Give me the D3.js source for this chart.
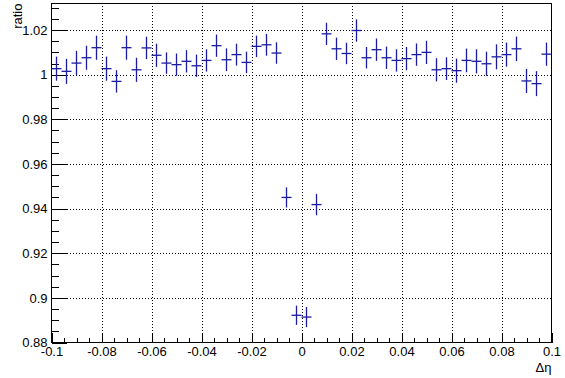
<!DOCTYPE html>
<html>
<head>
<meta charset="utf-8">
<script src="https://cdn.jsdelivr.net/npm/d3@7"></script>
<style>
  body { margin: 0; background: #fff; }
  svg { display: block; font-family: "Liberation Sans", Arial, sans-serif; }
</style>
</head>
<body>
<svg id="chart" width="565" height="378"></svg>
<script>
// bin centres in delta-eta (50 bins of 0.004 from -0.1 to 0.1)
const binCenters = [
  -0.098, -0.094, -0.090, -0.086, -0.082, -0.078, -0.074, -0.070, -0.066, -0.062,
  -0.058, -0.054, -0.050, -0.046, -0.042, -0.038, -0.034, -0.030, -0.026, -0.022,
  -0.018, -0.014, -0.010, -0.006, -0.002,  0.002,  0.006,  0.010,  0.014,  0.018,
   0.022,  0.026,  0.030,  0.034,  0.038,  0.042,  0.046,  0.050,  0.054,  0.058,
   0.062,  0.066,  0.070,  0.074,  0.078,  0.082,  0.086,  0.090,  0.094,  0.098
];
const binWidth = 0.004;
const ratios = [
  1.0027, 1.0015, 1.0052, 1.0076, 1.0121, 1.0027, 0.9970, 1.0121, 1.0022, 1.0120,
  1.0087, 1.0052, 1.0045, 1.0060, 1.0040, 1.0064, 1.0130, 1.0067, 1.0090, 1.0055,
  1.0127, 1.0134, 1.0097, 0.9450, 0.8922, 0.8914, 0.9418, 1.0183, 1.0116, 1.0095,
  1.0198, 1.0076, 1.0112, 1.0076, 1.0064, 1.0072, 1.0090, 1.0100, 1.0022, 1.0027,
  1.0018, 1.0064, 1.0060, 1.0049, 1.0080, 1.0090, 1.0116, 0.9972, 0.9960, 1.0092
];
const errors = [
  0.0054, 0.0056, 0.0055, 0.0054, 0.0054, 0.0054, 0.0050, 0.0054, 0.0054, 0.0050,
  0.0052, 0.0048, 0.0050, 0.0050, 0.0050, 0.0050, 0.0050, 0.0051, 0.0049, 0.0048,
  0.0048, 0.0049, 0.0048, 0.0045, 0.0043, 0.0045, 0.0048, 0.0050, 0.0050, 0.0048,
  0.0050, 0.0048, 0.0050, 0.0050, 0.0050, 0.0052, 0.0050, 0.0052, 0.0052, 0.0051,
  0.0054, 0.0053, 0.0054, 0.0054, 0.0056, 0.0054, 0.0055, 0.0054, 0.0056, 0.0052
];
const xTicks = [-0.1, -0.08, -0.06, -0.04, -0.02, 0, 0.02, 0.04, 0.06, 0.08, 0.1];
const yTicks = [0.88, 0.9, 0.92, 0.94, 0.96, 0.98, 1, 1.02];
const xMinor = d3.range(-0.1, 0.1001, 0.005);
const yMinor = d3.range(0.88, 1.0319, 0.005);

const frameL = 51.5, frameR = 551.5, frameT = 3.5, frameB = 342.5;
const dataColor = "#1c1ca0";

const svg = d3.select("#chart");

const x = d3.scaleLinear().domain([-0.1, 0.1]).range([frameL, frameR]);
const y = d3.scaleLinear().domain([0.88, 1.0319]).range([frameB, frameT]);
const fmt = d => String(+d.toFixed(3));

// grid
svg.append("g")
  .attr("transform", `translate(0,${frameB})`)
  .call(d3.axisBottom(x).tickValues(xTicks.slice(1, -1)).tickSize(-(frameB - frameT)).tickFormat(""))
  .call(g => g.select(".domain").remove())
  .selectAll("line").attr("stroke", "#000").attr("stroke-dasharray", "1,2");
svg.append("g")
  .attr("transform", `translate(${frameL},0)`)
  .call(d3.axisLeft(y).tickValues(yTicks.slice(1)).tickSize(-(frameR - frameL)).tickFormat(""))
  .call(g => g.select(".domain").remove())
  .selectAll("line").attr("stroke", "#000").attr("stroke-dasharray", "1,2");

// minor ticks
svg.append("g")
  .attr("transform", `translate(0,${frameB})`)
  .call(d3.axisBottom(x).tickValues(xMinor).tickSize(-5).tickFormat(""))
  .call(g => g.select(".domain").remove());
svg.append("g")
  .attr("transform", `translate(${frameL},0)`)
  .call(d3.axisLeft(y).tickValues(yMinor).tickSize(-7.5).tickFormat(""))
  .call(g => g.select(".domain").remove());

// major ticks + labels
svg.append("g")
  .attr("transform", `translate(0,${frameB})`)
  .call(d3.axisBottom(x).tickValues(xTicks).tickSize(-10).tickPadding(4).tickFormat(fmt))
  .call(g => g.select(".domain").remove());
svg.append("g")
  .attr("transform", `translate(${frameL},0)`)
  .call(d3.axisLeft(y).tickValues(yTicks).tickSize(-15).tickPadding(4).tickFormat(fmt))
  .call(g => g.select(".domain").remove());
svg.selectAll(".tick text").attr("font-size", 13).attr("fill", "#000")
  .attr("font-family", "Liberation Sans, Arial, sans-serif");
svg.selectAll(".tick line").attr("shape-rendering", "crispEdges");

// frame
svg.append("rect")
  .attr("x", frameL).attr("y", frameT)
  .attr("width", frameR - frameL).attr("height", frameB - frameT)
  .attr("fill", "none").attr("stroke", "#000").attr("stroke-width", 1);

// data crosses
const pts = binCenters.map((c, i) => ({ c, r: ratios[i], e: errors[i] }));
const marks = svg.append("g").attr("stroke", dataColor).attr("stroke-width", 1.3);
marks.selectAll(".h").data(pts).enter().append("line")
  .attr("x1", d => x(d.c - binWidth / 2)).attr("x2", d => x(d.c + binWidth / 2))
  .attr("y1", d => y(d.r)).attr("y2", d => y(d.r));
marks.selectAll(".v").data(pts).enter().append("line")
  .attr("x1", d => x(d.c)).attr("x2", d => x(d.c))
  .attr("y1", d => y(d.r - d.e)).attr("y2", d => y(d.r + d.e));

// axis titles
svg.append("text")
  .attr("transform", `translate(22,${frameT}) rotate(-90)`)
  .attr("text-anchor", "end")
  .attr("font-size", 13)
  .text("ratio");
svg.append("text")
  .attr("x", frameR).attr("y", 372)
  .attr("text-anchor", "end")
  .attr("font-size", 13)
  .text("Δη");
</script>
</body>
</html>
